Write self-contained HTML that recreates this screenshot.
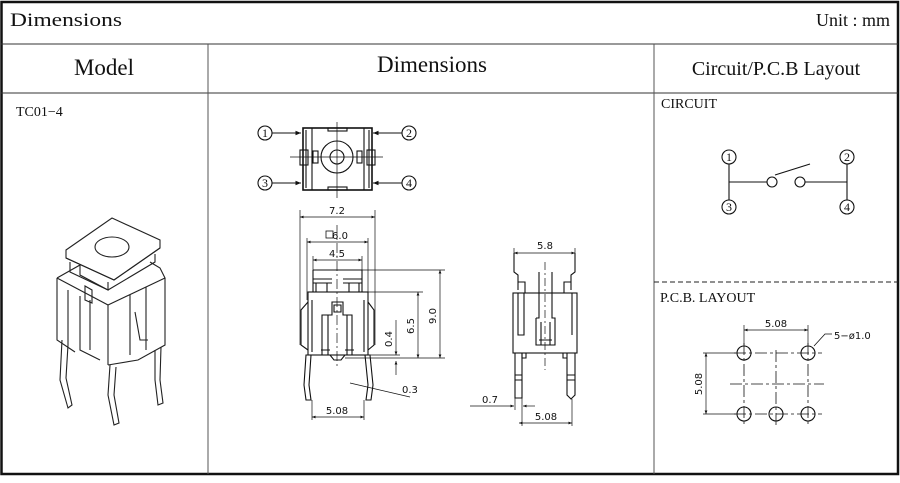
<!DOCTYPE html>
<html><head><meta charset="utf-8"><style>
html,body{margin:0;padding:0;background:#fff;width:900px;height:483px;overflow:hidden}
svg{display:block}
.s{font-family:"Liberation Serif",serif;fill:#111}
.a{font-family:"DejaVu Sans","Liberation Sans",sans-serif;fill:#111;font-size:10px}
</style></head><body>
<svg width="900" height="483" viewBox="0 0 900 483" xmlns="http://www.w3.org/2000/svg">
<defs>
<marker id="ar" viewBox="0 0 10 10" refX="10" refY="5" markerWidth="7" markerHeight="5" orient="auto-start-reverse"><path d="M0,1 L10,5 L0,9 z" fill="#111"/></marker>
</defs>
<!-- table -->
<rect x="1.5" y="2" width="896.5" height="472" fill="none" stroke="#111" stroke-width="2.5"/>
<line x1="1" y1="44" x2="898" y2="44" stroke="#333" stroke-width="1"/>
<line x1="1" y1="93" x2="898" y2="93" stroke="#333" stroke-width="1"/>
<line x1="208" y1="44" x2="208" y2="474" stroke="#555" stroke-width="1"/>
<line x1="654" y1="44" x2="654" y2="474" stroke="#555" stroke-width="1"/>
<text class="s" x="10" y="26" font-size="19" textLength="112" lengthAdjust="spacingAndGlyphs">Dimensions</text>
<text class="s" x="890" y="26" font-size="18" text-anchor="end">Unit : mm</text>
<text class="s" x="104" y="75" font-size="23" text-anchor="middle">Model</text>
<text class="s" x="432" y="72" font-size="23" text-anchor="middle">Dimensions</text>
<text class="s" x="776" y="75" font-size="20" text-anchor="middle">Circuit/P.C.B Layout</text>
<text class="s" x="16" y="116" font-size="14">TC01−4</text>

<!-- 3D model -->
<g fill="none" stroke="#222" stroke-width="1.1">
<path d="M66,250 L112,218 L160,240 L160,248 L114,280 L66,258 z"/>
<path d="M66,258 L114,280 L160,248"/>
<ellipse cx="112" cy="247" rx="17" ry="10"/>
<path d="M70,262 L70,272 L108,290 L108,282 M108,290 L155,262 L155,254"/>
<path d="M57,278 L80,265 L80,275 L108,290 M57,278 L57,340 L75,352 M57,278 L108,305 L108,365"/>
<path d="M108,305 L165,278 L160,268 L150,262 M165,278 L165,345 L138,360 L108,365"/>
<path d="M68,290 L68,345 M80,296 L80,350 L100,360 M90,300 L90,350"/>
<path d="M85,286 L85,300 L92,303 L92,290 z"/>
<path d="M130,295 L130,355 M146,287 L146,350 M135,312 L140,340 L148,340"/>
<path d="M62,340 L60,380 L68,408 L72,405 L66,378 L68,345"/>
<path d="M110,365 L108,395 L114,425 L119,423 L114,395 L116,367"/>
<path d="M155,350 L155,380 L158,405 L163,403 L160,380 L161,347"/>
</g>

<!-- top view -->
<g fill="none" stroke="#111" stroke-width="1.1">
<circle cx="265" cy="133" r="7"/><circle cx="409" cy="133" r="7"/>
<circle cx="265" cy="183" r="7"/><circle cx="409" cy="183" r="7"/>
<line x1="272" y1="133" x2="301" y2="133" marker-end="url(#ar)"/>
<line x1="402" y1="133" x2="373" y2="133" marker-end="url(#ar)"/>
<line x1="272" y1="183" x2="301" y2="183" marker-end="url(#ar)"/>
<line x1="402" y1="183" x2="373" y2="183" marker-end="url(#ar)"/>
<rect x="303" y="128" width="69" height="62" stroke-width="1.6"/>
<line x1="312" y1="128" x2="312" y2="190"/><line x1="364" y1="128" x2="364" y2="190"/>
<line x1="306" y1="130" x2="306" y2="188"/><line x1="369" y1="130" x2="369" y2="188"/>
<rect x="328" y="128" width="19" height="3"/><rect x="328" y="187" width="19" height="3"/>
<rect x="300" y="150" width="8" height="15"/><rect x="367" y="150" width="8" height="15"/>
<rect x="313" y="151" width="5" height="12"/><rect x="357" y="151" width="5" height="12"/>
<circle cx="337" cy="157" r="16"/><circle cx="337" cy="157" r="7"/>
<line x1="337" y1="122" x2="337" y2="198" stroke-width="0.7"/>
<line x1="290" y1="157" x2="383" y2="157" stroke-width="0.7"/>
</g>
<g class="s" font-size="12" text-anchor="middle">
<text x="265" y="137">1</text><text x="409" y="137">2</text><text x="265" y="187">3</text><text x="409" y="187">4</text>
</g>

<!-- front view -->
<g fill="none" stroke="#111" stroke-width="1.1">
<line x1="300" y1="210" x2="300" y2="345" stroke-width="0.7"/><line x1="375" y1="210" x2="375" y2="345" stroke-width="0.7"/>
<line x1="300" y1="217" x2="375" y2="217" marker-start="url(#ar)" marker-end="url(#ar)" stroke-width="0.7"/>
<line x1="307" y1="238" x2="307" y2="300" stroke-width="0.7"/><line x1="368" y1="238" x2="368" y2="300" stroke-width="0.7"/>
<line x1="307" y1="242" x2="368" y2="242" marker-start="url(#ar)" marker-end="url(#ar)" stroke-width="0.7"/>
<line x1="313" y1="256" x2="313" y2="272" stroke-width="0.7"/><line x1="362" y1="256" x2="362" y2="272" stroke-width="0.7"/>
<line x1="313" y1="260" x2="362" y2="260" marker-start="url(#ar)" marker-end="url(#ar)" stroke-width="0.7"/>
<path d="M313,270 L362,270 L362,292 M313,270 L313,292"/>
<path d="M313,279 L332,279 M343,279 L362,279 M313,283 L332,283 M343,283 L362,283"/>
<path d="M316,283 L316,292 M327,283 L327,292 M349,283 L349,292 M359,283 L359,292"/>
<rect x="308" y="292" width="60" height="63"/>
<path d="M308,302 L301,310 L301,345 L308,350 M368,302 L374,310 L374,345 L368,350"/>
<path d="M312,300 L312,352 M364,300 L364,352"/>
<path d="M322,355 L322,315 L332,315 L332,302 L343,302 L343,315 L352,315 L352,355"/>
<path d="M328,315 L328,355 M347,315 L347,355 M334,305 L341,305 L341,312 L334,312 z"/>
<path d="M321,350 L330,350 M345,350 L354,350 M330,355 L334,360 L341,360 L345,355"/>
<path d="M306,355 L304,385 L306,400 L311,400 L309,385 L311,355 z"/>
<path d="M365,355 L368,385 L366,400 L371,400 L373,385 L370,355 z"/>
<line x1="337" y1="225" x2="337" y2="368" stroke-dasharray="10,3,2,3" stroke-width="0.7"/>
<line x1="362" y1="270" x2="445" y2="270" stroke-width="0.7"/>
<line x1="368" y1="292" x2="423" y2="292" stroke-width="0.7"/>
<line x1="345" y1="358" x2="445" y2="358" stroke-width="0.7"/>
<line x1="440" y1="270" x2="440" y2="358" marker-start="url(#ar)" marker-end="url(#ar)" stroke-width="0.7"/>
<line x1="418" y1="292" x2="418" y2="358" marker-start="url(#ar)" marker-end="url(#ar)" stroke-width="0.7"/>
<line x1="396" y1="320" x2="396" y2="355" marker-end="url(#ar)" stroke-width="0.7"/>
<line x1="396" y1="375" x2="396" y2="361" marker-end="url(#ar)" stroke-width="0.7"/>
<line x1="370" y1="355" x2="400" y2="355" stroke-width="0.7"/>
<line x1="350" y1="383" x2="410" y2="397" stroke-width="0.7"/>
<line x1="312" y1="400" x2="312" y2="420" stroke-width="0.7"/><line x1="364" y1="400" x2="364" y2="420" stroke-width="0.7"/>
<line x1="312" y1="417" x2="364" y2="417" marker-start="url(#ar)" marker-end="url(#ar)" stroke-width="0.7"/>
<rect x="326" y="231" width="7" height="7" stroke-width="0.8"/>
</g>
<text class="a" x="337" y="214" text-anchor="middle">7.2</text>
<text class="a" x="340" y="239" text-anchor="middle">6.0</text>
<text class="a" x="337" y="257" text-anchor="middle">4.5</text>
<text class="a" x="337" y="414" text-anchor="middle">5.08</text>
<text class="a" x="402" y="393">0.3</text>
<text class="a" transform="translate(436,316) rotate(-90)" text-anchor="middle">9.0</text>
<text class="a" transform="translate(414,326) rotate(-90)" text-anchor="middle">6.5</text>
<text class="a" transform="translate(392,339) rotate(-90)" text-anchor="middle">0.4</text>

<!-- side view -->
<g fill="none" stroke="#111" stroke-width="1.1">
<line x1="514" y1="248" x2="514" y2="262" stroke-width="0.7"/><line x1="575" y1="248" x2="575" y2="262" stroke-width="0.7"/>
<line x1="514" y1="253" x2="575" y2="253" marker-start="url(#ar)" marker-end="url(#ar)" stroke-width="0.7"/>
<path d="M514,253 L514,272 L518,275 L518,290 M575,253 L575,272 L571,275 L571,290"/>
<path d="M518,282 L525,282 L525,293 M571,282 L564,282 L564,293"/>
<rect x="513" y="293" width="64" height="60"/>
<path d="M518,293 L518,335 L524,335 L524,293 M572,293 L572,335"/>
<path d="M539,272 L539,293 M552,272 L552,293"/>
<path d="M536,318 L536,345 L555,345 L555,318 L552,318 L552,293 M539,293 L539,318 L536,318 M539,340 L552,340 M541,322 L541,345 M550,322 L550,345"/>
<line x1="545" y1="262" x2="545" y2="370" stroke-dasharray="8,3,2,3" stroke-width="0.7"/>
<path d="M515,353 L515,398 L522,398 L522,353 M515,375 L522,375 M515,380 L522,380"/>
<path d="M567,353 L567,395 L571,399 L575,395 L575,353 M567,375 L575,375 M567,380 L575,380"/>
<path d="M522,353 L522,358 L526,358 L526,353 M567,358 L563,358 L563,353"/>
<line x1="470" y1="406" x2="514" y2="406" marker-end="url(#ar)" stroke-width="0.7"/>
<line x1="535" y1="406" x2="523" y2="406" marker-end="url(#ar)" stroke-width="0.7"/>
<line x1="515" y1="398" x2="515" y2="410" stroke-width="0.7"/><line x1="522" y1="398" x2="522" y2="426" stroke-width="0.7"/>
<line x1="572" y1="399" x2="572" y2="426" stroke-width="0.7"/>
<line x1="519" y1="423" x2="572" y2="423" marker-start="url(#ar)" marker-end="url(#ar)" stroke-width="0.7"/>
</g>
<text class="a" x="545" y="249" text-anchor="middle">5.8</text>
<text class="a" x="490" y="403" text-anchor="middle">0.7</text>
<text class="a" x="546" y="420" text-anchor="middle">5.08</text>

<!-- circuit -->
<text class="s" x="661" y="108" font-size="14">CIRCUIT</text>
<g fill="none" stroke="#111" stroke-width="1.1">
<circle cx="729" cy="157" r="7"/><circle cx="847" cy="157" r="7"/>
<circle cx="729" cy="207" r="7"/><circle cx="847" cy="207" r="7"/>
<line x1="729" y1="164" x2="729" y2="200"/><line x1="847" y1="164" x2="847" y2="200"/>
<line x1="729" y1="182" x2="767" y2="182"/><circle cx="772" cy="182" r="5"/>
<circle cx="800" cy="182" r="5"/><line x1="805" y1="182" x2="847" y2="182"/>
<line x1="775" y1="175" x2="810" y2="164"/>
</g>
<g class="s" font-size="12" text-anchor="middle">
<text x="729" y="161">1</text><text x="847" y="161">2</text><text x="729" y="211">3</text><text x="847" y="211">4</text>
</g>
<line x1="654" y1="282" x2="898" y2="282" stroke="#222" stroke-dasharray="5,3"/>
<text class="s" x="660" y="302" font-size="14">P.C.B. LAYOUT</text>
<g fill="none" stroke="#111" stroke-width="1.1">
<circle cx="744" cy="353" r="7"/><circle cx="808" cy="353" r="7"/>
<circle cx="744" cy="414" r="7"/><circle cx="776" cy="414" r="7"/><circle cx="808" cy="414" r="7"/>
<g stroke-width="0.8" stroke-dasharray="12,3,3,3">
<line x1="734" y1="353" x2="822" y2="353"/><line x1="734" y1="414" x2="822" y2="414"/>
<line x1="730" y1="384" x2="824" y2="384"/>
<line x1="744" y1="343" x2="744" y2="427"/><line x1="776" y1="350" x2="776" y2="427"/><line x1="808" y1="343" x2="808" y2="427"/>
</g>
<line x1="744" y1="325" x2="744" y2="345" stroke-width="0.7"/><line x1="808" y1="325" x2="808" y2="345" stroke-width="0.7"/>
<line x1="744" y1="330" x2="808" y2="330" marker-start="url(#ar)" marker-end="url(#ar)" stroke-width="0.7"/>
<line x1="703" y1="353" x2="736" y2="353" stroke-width="0.7"/><line x1="703" y1="414" x2="736" y2="414" stroke-width="0.7"/>
<line x1="706" y1="353" x2="706" y2="414" marker-start="url(#ar)" marker-end="url(#ar)" stroke-width="0.7"/>
<path d="M814,346 L825,334 L832,334" stroke-width="0.8"/>
</g>
<text class="a" x="776" y="327" text-anchor="middle">5.08</text>
<text class="a" x="834" y="339" font-size="11">5−ø1.0</text>
<text class="a" transform="translate(702,384) rotate(-90)" text-anchor="middle">5.08</text>
</svg>
</body></html>
